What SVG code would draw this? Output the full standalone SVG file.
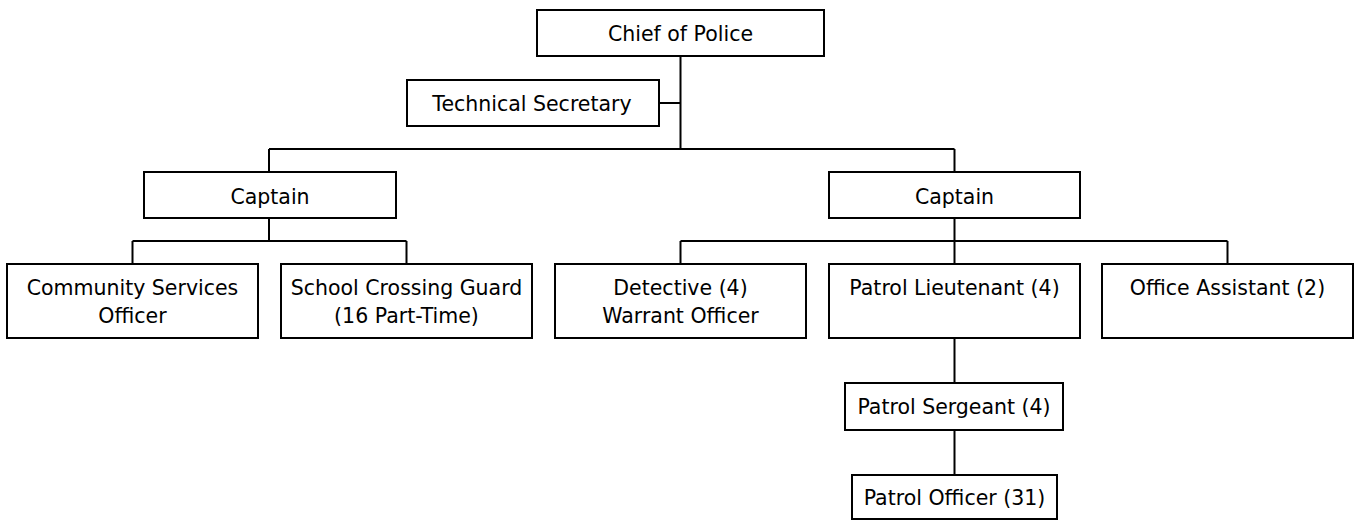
<svg xmlns="http://www.w3.org/2000/svg" width="1356" height="520" viewBox="0 0 1356 520">
<style>
.box{fill:#fff;stroke:#000;stroke-width:2}
.conn{fill:none;stroke:#000;stroke-width:2}
text{font-family:"DejaVu Sans","Verdana",sans-serif;font-size:20.5px;fill:#000;text-anchor:middle}
</style>
<rect width="1356" height="520" fill="#fff"/>
<g id="connectors">
<path class="conn" d="M680.5 56V149M659 103H680.5M269 149H954.5M269 149V172M954.5 149V172M269 218V241M132.5 241H406.5M132.5 241V264M406.5 241V264M954.5 218V264M680.5 241H1227.5M680.5 241V264M1227.5 241V264M954.5 338V383M954.5 430V475"/>
</g>
<g id="chief"><rect class="box" x="537" y="10" width="287" height="46"/><text x="680.5" y="40.5">Chief of Police</text></g>
<g id="tech-secretary"><rect class="box" x="407" y="80" width="252" height="46"/><text x="532" y="110.5">Technical Secretary</text></g>
<g id="captain-left"><rect class="box" x="144" y="172" width="252" height="46"/><text x="270" y="203.5">Captain</text></g>
<g id="captain-right"><rect class="box" x="829" y="172" width="251" height="46"/><text x="954.5" y="203.5">Captain</text></g>
<g id="community"><rect class="box" x="7" y="264" width="251" height="74"/><text x="132.5" y="294.5">Community Services</text><text x="132.5" y="322.5">Officer</text></g>
<g id="school"><rect class="box" x="281" y="264" width="251" height="74"/><text x="406.5" y="294.5">School Crossing Guard</text><text x="406.5" y="322.5">(16 Part-Time)</text></g>
<g id="detective"><rect class="box" x="555" y="264" width="251" height="74"/><text x="680.5" y="294.5">Detective (4)</text><text x="680.5" y="322.5">Warrant Officer</text></g>
<g id="patrol-lieutenant"><rect class="box" x="829" y="264" width="251" height="74"/><text x="954.5" y="294.5">Patrol Lieutenant (4)</text></g>
<g id="office-assistant"><rect class="box" x="1102" y="264" width="251" height="74"/><text x="1227.5" y="294.5">Office Assistant (2)</text></g>
<g id="patrol-sergeant"><rect class="box" x="845" y="383" width="218" height="47"/><text x="954" y="413.5">Patrol Sergeant (4)</text></g>
<g id="patrol-officer"><rect class="box" x="852" y="475" width="205" height="44"/><text x="954.5" y="505">Patrol Officer (31)</text></g>
</svg>
